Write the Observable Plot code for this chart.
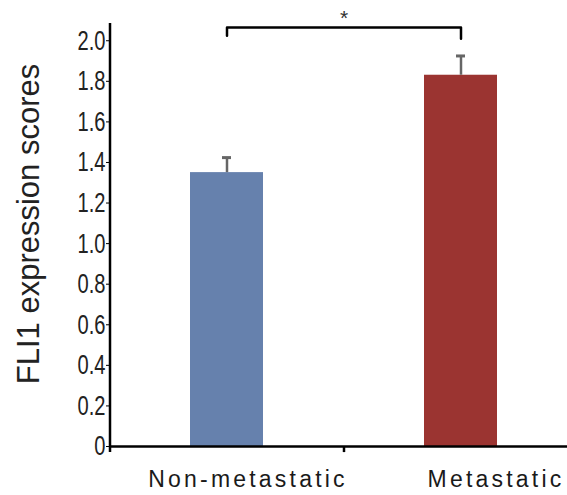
<!DOCTYPE html>
<html>
<head>
<meta charset="utf-8">
<script src="https://cdn.jsdelivr.net/npm/d3@7"></script>
<script src="https://cdn.jsdelivr.net/npm/@observablehq/plot@0.6"></script>
<style>
  html, body { margin: 0; padding: 0; background: #fff; }
</style>
</head>
<body>
<div id="chart"></div>
<script>
const categories = ["Non-metastatic", "Metastatic"];
const means = [1.35, 1.83];
const errors = [0.074, 0.095];
const barColors = ["#6681ad", "#9b3431"];
const yTicks = [0, 0.2, 0.4, 0.6, 0.8, 1.0, 1.2, 1.4, 1.6, 1.8, 2.0];
const yTickLabels = ["0", "0.2", "0.4", "0.6", "0.8", "1.0", "1.2", "1.4", "1.6", "1.8", "2.0"];
const yTitle = "FLI1 expression scores";
const sigLabel = "*";
const bracketTop = 2.065;
const bracketLegs = [2.025, 2.01];

const data = categories.map((c, i) => ({cat: c, mean: means[i], err: errors[i], color: barColors[i]}));
const bracket = [
  {cat: categories[0], y: bracketLegs[0]},
  {cat: categories[0], y: bracketTop},
  {cat: categories[1], y: bracketTop},
  {cat: categories[1], y: bracketLegs[1]}
];
const tickLabel = new Map(yTicks.map((t, i) => [t, yTickLabels[i]]));
const sans = "'Liberation Sans', Arial, Helvetica, sans-serif";
const half = 117;

const chart = Plot.plot({
  width: 567,
  height: 495,
  marginLeft: 109,
  marginRight: 0,
  marginTop: 23,
  marginBottom: 49,
  x: {type: "band", domain: categories, range: [109, 578], paddingInner: 0.688, paddingOuter: 0.346, axis: null},
  y: {domain: [0, 2.085], axis: null},
  color: {type: "identity"},
  marks: [
    Plot.barY(data, {x: "cat", y: "mean", fill: "color"}),
    Plot.ruleX(data, {x: "cat", y1: "mean", y2: d => d.mean + d.err, stroke: "#666", strokeWidth: 2.5}),
    Plot.tickY(data, {x: "cat", y: d => d.mean + d.err, stroke: "#666", strokeWidth: 3, insetLeft: 32, insetRight: 32}),
    Plot.ruleY([0], {stroke: "#000", strokeWidth: 2.5}),
    Plot.ruleX([categories[0]], {x: d => d, dx: -half, y1: -0.03, y2: 2.085, stroke: "#000", strokeWidth: 2.5}),
    Plot.ruleX([categories[1]], {x: d => d, dx: -half, y1: -0.03, y2: 0, stroke: "#000", strokeWidth: 2.5}),
    Plot.axisY({ticks: yTicks, tickFormat: d => tickLabel.get(d), tickSize: 3, tickPadding: 1, fontSize: 28, fontFamily: sans, color: "#222", stroke: "#000", label: null}),
    Plot.line(bracket, {x: "cat", y: "y", stroke: "#000", strokeWidth: 2.5}),
    Plot.text([sigLabel], {x: () => categories[1], y: () => bracketTop, dx: -half, dy: -9, fontSize: 21, fontFamily: sans, fill: "#333"}),
    Plot.text([categories[0]], {x: d => d, frameAnchor: "bottom", dy: 40, dx: 21, fontSize: 23, fontFamily: sans, fill: "#1a1a1a"}),
    Plot.text([categories[1]], {x: d => d, frameAnchor: "bottom", dy: 40, dx: 35, fontSize: 23, fontFamily: sans, fill: "#1a1a1a"}),
    Plot.text([yTitle], {frameAnchor: "left", textAnchor: "middle", dx: -80, dy: -11, rotate: -90, fontSize: 31, fontFamily: sans, fill: "#222"})
  ]
});
document.getElementById("chart").appendChild(chart);

// styling: spaced category labels, condensed tick labels
d3.select(chart).selectAll("text")
  .filter(function () { return categories.includes(this.textContent); })
  .style("letter-spacing", "3.2px");
d3.select(chart).selectAll("text")
  .filter(function () { return yTickLabels.includes(this.textContent); })
  .style("font-size", "28px")
  .style("font-family", sans)
  .each(function () {
    const w = this.getComputedTextLength();
    this.setAttribute("textLength", (w * 0.72).toFixed(1));
    this.setAttribute("lengthAdjust", "spacingAndGlyphs");
  });
</script>
</body>
</html>
